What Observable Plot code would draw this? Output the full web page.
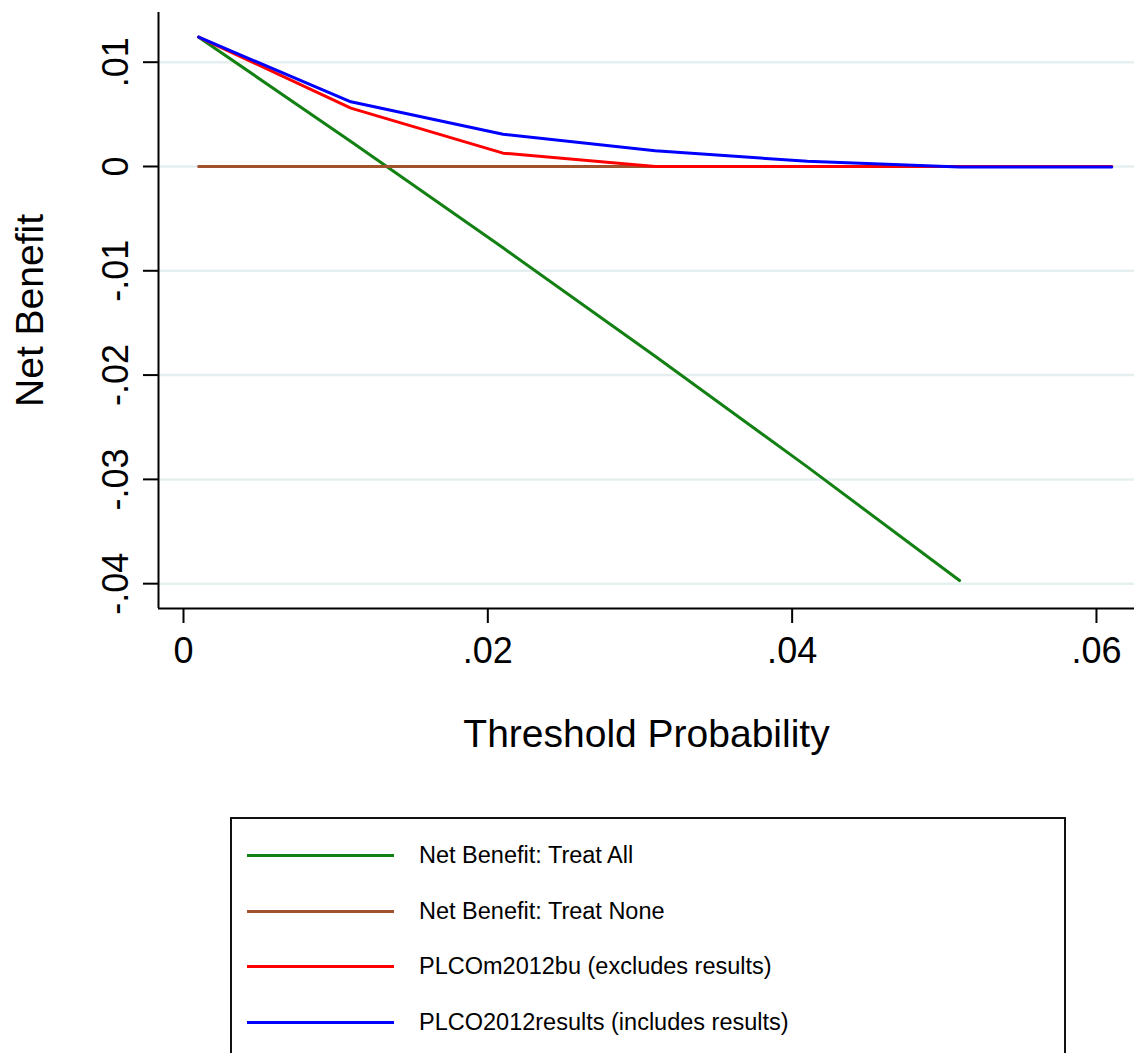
<!DOCTYPE html>
<html>
<head>
<meta charset="utf-8">
<script src="https://cdn.jsdelivr.net/npm/d3@7"></script>
<script src="https://cdn.jsdelivr.net/npm/@observablehq/plot@0.6"></script>
<style>
  html, body { margin: 0; padding: 0; background: #fff; }
  body { width: 1134px; height: 1053px; overflow: hidden; position: relative; font-family: "Liberation Sans", Arial, Helvetica, sans-serif; }
  #chart svg { display: block; }
  #legend { position: absolute; left: 230px; top: 817px; width: 836px; height: 260px; border: 2px solid #111; box-sizing: border-box; background: #fff; }
  .item { position: absolute; left: 0; height: 0; }
  .item .sw { position: absolute; left: 15px; width: 147px; height: 3px; top: -1.5px; }
  .item .lb { position: absolute; left: 187px; top: -14px; font-size: 23.5px; line-height: 28px; color: #000; white-space: nowrap; }
</style>
</head>
<body>
<div id="chart"></div>
<div id="legend"></div>
<script>
// ---- data ----
const thresholds = [0.001, 0.011, 0.021, 0.031, 0.041, 0.051, 0.061];
const treatAll = [0.0124, 0.0024, -0.0078, -0.0182, -0.0288, -0.0397];
const treatNone = [0, 0, 0, 0, 0, 0, 0];
const plcoM2012bu = [0.0124, 0.0056, 0.00128, 0, 0, 0, 0];
const plco2012results = [0.0124, 0.0062, 0.0031, 0.0015, 0.0005, -0.00005, -0.00005];

const seriesNames = [
  "Net Benefit: Treat All",
  "Net Benefit: Treat None",
  "PLCOm2012bu (excludes results)",
  "PLCO2012results (includes results)"
];
const seriesColors = ["#138013", "#a0522d", "#ff0000", "#0000ff"];
const seriesValues = [treatAll, treatNone, plcoM2012bu, plco2012results];

const xTicks = [0, 0.02, 0.04, 0.06];
const xTickLabels = ["0", ".02", ".04", ".06"];
const yTicks = [0.01, 0, -0.01, -0.02, -0.03, -0.04];
const yTickLabels = [".01", "0", "-.01", "-.02", "-.03", "-.04"];

const xTitle = "Threshold Probability";
const yTitle = "Net Benefit";

// ---- build table ----
const rows = [];
seriesValues.forEach((vals, si) => {
  vals.forEach((v, i) => rows.push({series: seriesNames[si], x: thresholds[i], y: v}));
});

const xDomain = [-0.001643, 0.0625];
const yDomain = [-0.04238, 0.014765];
const fontFam = "Liberation Sans, Arial, Helvetica, sans-serif";

const chart = Plot.plot({
  width: 1134,
  height: 800,
  marginLeft: 158,
  marginRight: 0,
  marginTop: 12,
  marginBottom: 192,
  style: {fontFamily: fontFam, background: "#fff", color: "#000"},
  x: {domain: xDomain},
  y: {domain: yDomain},
  color: {domain: seriesNames, range: seriesColors},
  marks: [
    Plot.ruleY(yTicks, {stroke: "#e6efef", strokeWidth: 2.5}),
    Plot.line(rows, {x: "x", y: "y", z: "series", stroke: "series", strokeWidth: 3, strokeLinecap: "round", strokeLinejoin: "round"}),
    Plot.ruleX([xDomain[0]], {stroke: "#000", strokeWidth: 2}),
    Plot.ruleY([yDomain[0]], {stroke: "#000", strokeWidth: 2}),
    Plot.axisX({ticks: xTicks, tickFormat: (d, i) => xTickLabels[i], tickSize: 15, tickPadding: 14, fontSize: 36, label: null, strokeWidth: 2}),
    Plot.axisY({ticks: yTicks, tickFormat: () => "", tickSize: 15, label: null, strokeWidth: 2}),
    Plot.text(yTicks, {y: d => d, text: (d, i) => yTickLabels[i], frameAnchor: "left", dx: -42, rotate: -90, textAnchor: "middle", lineAnchor: "middle", fontSize: 36}),
    Plot.text([xTitle], {text: d => d, frameAnchor: "bottom", dy: 126, lineAnchor: "middle", textAnchor: "middle", fontSize: 39}),
    Plot.text([yTitle], {text: d => d, frameAnchor: "left", dx: -128, rotate: -90, lineAnchor: "middle", textAnchor: "middle", fontSize: 39})
  ]
});
document.getElementById("chart").appendChild(chart);

// ---- legend ----
const legend = d3.select("#legend");
const rowTops = [36, 92, 147, 203];
seriesNames.forEach((name, i) => {
  const it = legend.append("div").attr("class", "item").style("top", rowTops[i] + "px");
  it.append("div").attr("class", "sw").style("background", seriesColors[i]);
  it.append("div").attr("class", "lb").text(name);
});
</script>
</body>
</html>
